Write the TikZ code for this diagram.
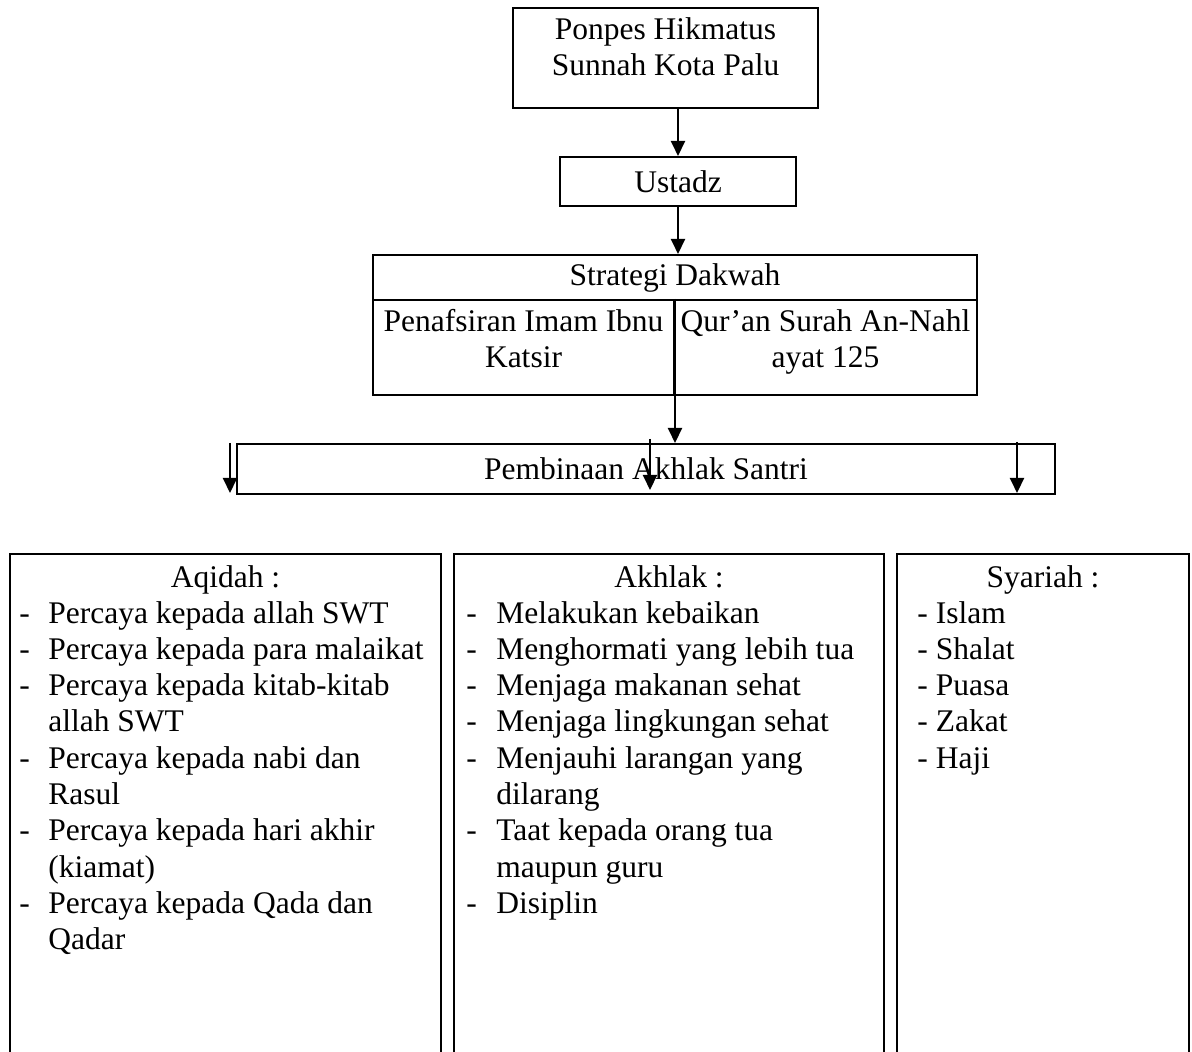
\documentclass[tikz,border=0pt]{standalone}
\usepackage{fontspec}
\setmainfont{Liberation Serif}
\usetikzlibrary{arrows.meta}

\begin{document}
\begin{tikzpicture}[x=0.5pt,y=-0.5pt,
  font=\fontsize{15.75}{18.15}\selectfont,
  box/.style={draw,line width=1pt,inner sep=0pt},
  txt/.style={inner sep=0pt,align=center},
  lst/.style={inner sep=0pt,anchor=base west},
  arr/.style={line width=1pt,-{Triangle[length=7.5pt,width=7pt]}}]
  \clip (0,0) rectangle (1192,1052);

  % alur atas
  \node[box,minimum width=152.5pt,minimum height=50pt] (ponpes) at (665.5,58) {};
  \node[txt,anchor=north] (ponpesTxt) at (665.5,17) {Ponpes Hikmatus\\Sunnah Kota Palu};
  \node[box,minimum width=118pt,minimum height=24.5pt] (ustadz) at (678,181.5) {Ustadz};
  \node[box,minimum width=302pt,minimum height=22.5pt] (strategi) at (675,277.5) {Strategi Dakwah};
  \node[box,minimum width=150.5pt,minimum height=47.5pt] (tafsir) at (523.5,347.5) {};
  \node[box,minimum width=151.5pt,minimum height=47.5pt] (quran) at (825.5,347.5) {};
  \node[txt,anchor=north] (tafsirTxt) at (523.5,309) {Penafsiran Imam Ibnu\\Katsir};
  \node[txt,anchor=north] (quranTxt) at (825.5,309) {Qur’an Surah An-Nahl\\ayat 125};
  \node[box,minimum width=409pt,minimum height=25pt] (pembinaan) at (646,469) {Pembinaan Akhlak Santri};

  \draw[arr] (ponpes.south -| ustadz.north) -- (ustadz.north);
  \draw[arr] (ustadz.south) -- (ustadz.south |- strategi.north);
  \draw[arr] (tafsir.north east) -- (tafsir.north east |- pembinaan.north);

  % panah bebas
  \coordinate (kiri) at (230,443);   \coordinate (kiriU) at (230,493);
  \coordinate (tengah) at (650,439); \coordinate (tengahU) at (650,490);
  \coordinate (kanan) at (1017,442); \coordinate (kananU) at (1017,493);
  \draw[arr] (kiri) -- (kiriU);
  \draw[arr] (tengah) -- (tengahU);
  \draw[arr] (kanan) -- (kananU);

  % kotak bawah
  \node[box,minimum width=215.5pt,minimum height=258pt] (aqidah) at (225.5,812) {};
  \node[box,minimum width=215pt,minimum height=258pt] (akhlak) at (669,812) {};
  \node[box,minimum width=146pt,minimum height=258pt] (syariah) at (1043,812) {};

  \node[inner sep=0pt,anchor=base] (aqidahJdl) at (225.5,587) {Aqidah :};
  \node[inner sep=0pt,anchor=base] (akhlakJdl) at (669,587) {Akhlak :};
  \node[inner sep=0pt,anchor=base] (syariahJdl) at (1043,587) {Syariah :};

  \node[lst] (aqidahIsi) at (19,623) {\begin{tabular}[t]{@{}p{14.5pt}@{}l@{}}
    - & Percaya kepada allah SWT\\
    - & Percaya kepada para malaikat\\
    - & Percaya kepada kitab-kitab\\
      & allah SWT\\
    - & Percaya kepada nabi dan\\
      & Rasul\\
    - & Percaya kepada hari akhir\\
      & (kiamat)\\
    - & Percaya kepada Qada dan\\
      & Qadar
  \end{tabular}};
  \node[lst] (akhlakIsi) at (466,623) {\begin{tabular}[t]{@{}p{15pt}@{}l@{}}
    - & Melakukan kebaikan\\
    - & Menghormati yang lebih tua\\
    - & Menjaga makanan sehat\\
    - & Menjaga lingkungan sehat\\
    - & Menjauhi larangan yang\\
      & dilarang\\
    - & Taat kepada orang tua\\
      & maupun guru\\
    - & Disiplin
  \end{tabular}};
  \node[lst] (syariahIsi) at (917,623) {\begin{tabular}[t]{@{}l@{}}
    - Islam\\
    - Shalat\\
    - Puasa\\
    - Zakat\\
    - Haji
  \end{tabular}};
\end{tikzpicture}
\end{document}
